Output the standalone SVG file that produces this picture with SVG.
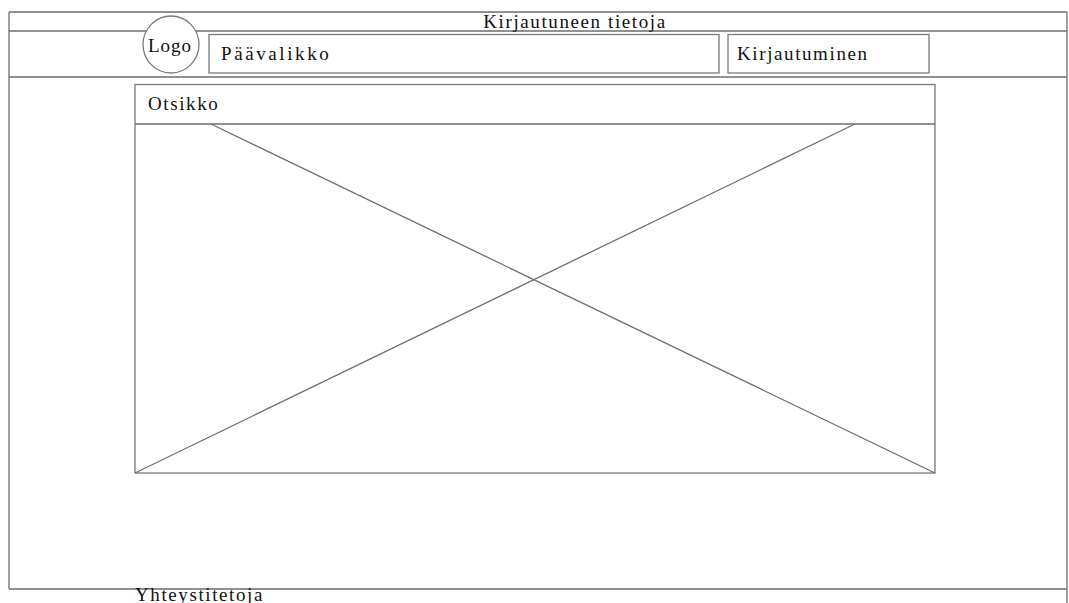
<svg xmlns="http://www.w3.org/2000/svg" width="1069" height="603" viewBox="0 0 1069 603">
<style>
.l{stroke:#6e6e6e;stroke-width:1.3;fill:none}
.b{stroke:#7a7a7a;stroke-width:1.3;fill:#fff}
.t{font-family:"Liberation Serif",serif;font-size:19px;fill:#111;letter-spacing:1.6px}
</style>
<rect width="1069" height="603" fill="#fff"/>
<g id="frame">
<path class="l" d="M9 12H1067M9 31H1067M9 77H1067M9 589H1067M9 12V589M1067 12V603"/>
<text class="t" x="575" y="28" text-anchor="middle">Kirjautuneen tietoja</text>
</g>
<g id="logo">
<ellipse class="b" cx="171" cy="44.5" rx="28" ry="28.5"/>
<text class="t" x="148" y="52" style="letter-spacing:1px">Logo</text>
</g>
<g id="menu">
<rect class="b" x="209" y="34.5" width="510" height="38.5"/>
<text class="t" x="221" y="60" style="letter-spacing:2.6px">Päävalikko</text>
</g>
<g id="login">
<rect class="b" x="728" y="34.5" width="201" height="38.5"/>
<text class="t" x="737" y="60">Kirjautuminen</text>
</g>
<g id="content">
<rect class="b" x="135" y="84.5" width="800" height="388.5"/>
<line class="l" x1="135" y1="124" x2="935" y2="124"/>
<text class="t" x="148" y="110">Otsikko</text>
<line class="l" x1="211" y1="124" x2="935" y2="473"/>
<line class="l" x1="855" y1="124" x2="135" y2="473"/>
</g>
<g id="footer">
<text class="t" x="135" y="601">Yhteystitetoja</text>
</g>
</svg>
